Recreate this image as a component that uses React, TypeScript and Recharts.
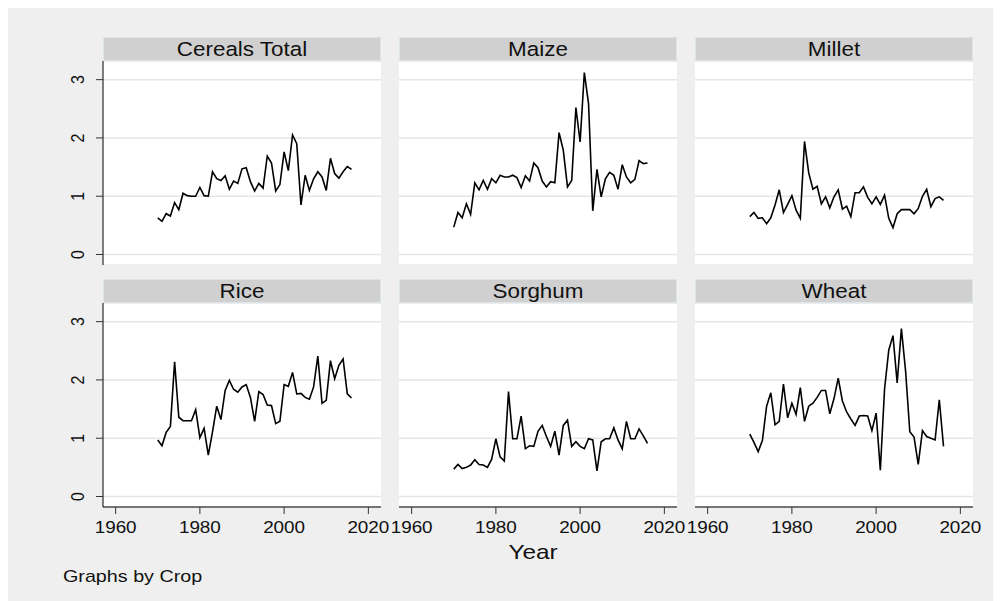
import React from "react";
import { LineChart, Line, XAxis, YAxis, CartesianGrid } from "recharts";

const years = [
  1970, 1971, 1972, 1973, 1974, 1975, 1976, 1977, 1978, 1979,
  1980, 1981, 1982, 1983, 1984, 1985, 1986, 1987, 1988, 1989,
  1990, 1991, 1992, 1993, 1994, 1995, 1996, 1997, 1998, 1999,
  2000, 2001, 2002, 2003, 2004, 2005, 2006, 2007, 2008, 2009,
  2010, 2011, 2012, 2013, 2014, 2015, 2016,
];

const cerealsTotal = [
  0.63, 0.57, 0.7, 0.66, 0.89, 0.77, 1.05, 1.01, 1.0, 1.0,
  1.15, 1.01, 1.0, 1.42, 1.3, 1.27, 1.35, 1.12, 1.26, 1.22,
  1.47, 1.49, 1.25, 1.09, 1.22, 1.14, 1.69, 1.57, 1.09, 1.2,
  1.76, 1.44, 2.05, 1.9, 0.85, 1.36, 1.1, 1.3, 1.42, 1.33,
  1.1, 1.65, 1.39, 1.31, 1.42, 1.51, 1.46,
];
const maize = [
  0.47, 0.72, 0.63, 0.87, 0.69, 1.23, 1.11, 1.27, 1.12, 1.3,
  1.23, 1.36, 1.33, 1.33, 1.36, 1.32, 1.15, 1.35, 1.26, 1.57,
  1.49, 1.26, 1.16, 1.25, 1.23, 2.09, 1.79, 1.16, 1.27, 2.52,
  1.93, 3.12, 2.59, 0.75, 1.46, 0.99, 1.3, 1.41, 1.36, 1.12,
  1.54, 1.33, 1.23, 1.29, 1.61, 1.56, 1.57,
];
const millet = [
  0.65, 0.72, 0.62, 0.63, 0.53, 0.63, 0.85, 1.11, 0.72, 0.86,
  1.01, 0.76, 0.62, 1.94, 1.4, 1.12, 1.17, 0.87, 0.99, 0.8,
  0.99, 1.11, 0.78, 0.83, 0.65, 1.06, 1.06, 1.16, 0.98, 0.87,
  0.99, 0.86, 1.02, 0.62, 0.46, 0.7, 0.77, 0.77, 0.77, 0.7,
  0.79, 1.0, 1.12, 0.82, 0.96, 0.99, 0.93,
];
const rice = [
  0.97, 0.87, 1.1, 1.2, 2.31, 1.36, 1.3, 1.3, 1.3, 1.49,
  1.01, 1.17, 0.71, 1.11, 1.55, 1.32, 1.82, 1.99, 1.84, 1.79,
  1.88, 1.92, 1.7, 1.29, 1.8, 1.75, 1.57, 1.56, 1.25, 1.29,
  1.92, 1.89, 2.13, 1.76, 1.77, 1.7, 1.67, 1.88, 2.41, 1.6,
  1.65, 2.33, 2.02, 2.25, 2.36, 1.76, 1.69,
];
const sorghum = [
  0.47, 0.55, 0.48, 0.5, 0.54, 0.63, 0.55, 0.54, 0.5, 0.64,
  0.99, 0.68, 0.61, 1.8, 0.99, 0.99, 1.38, 0.82, 0.87, 0.86,
  1.12, 1.22, 1.03, 0.86, 1.12, 0.71, 1.22, 1.31, 0.86, 0.94,
  0.86, 0.82, 0.99, 0.97, 0.44, 0.94, 0.99, 0.99, 1.18, 0.97,
  0.82, 1.29, 0.99, 0.99, 1.16, 1.04, 0.91,
];
const wheat = [
  1.07, 0.93, 0.77, 0.96, 1.55, 1.78, 1.23, 1.29, 1.93, 1.35,
  1.6, 1.41, 1.87, 1.29, 1.55, 1.6, 1.7, 1.82, 1.82, 1.42,
  1.68, 2.03, 1.64, 1.45, 1.33, 1.22, 1.38, 1.39, 1.38, 1.13,
  1.43, 0.45, 1.84, 2.51, 2.76, 1.95, 2.88, 2.15, 1.11, 1.02,
  0.55, 1.13, 1.03, 1.0, 0.97, 1.66, 0.86,
];

const crops = ["Cereals Total", "Maize", "Millet", "Rice", "Sorghum", "Wheat"];
const seriesList = [cerealsTotal, maize, millet, rice, sorghum, wheat];
const xTicks = [1960, 1980, 2000, 2020];
const yTicks = [0, 1, 2, 3];

const FONT = "'Liberation Sans', Arial, Helvetica, sans-serif";
const PLOT_LEFTS = [95, 391, 687];
const PLOT_TOPS = [53, 295];
const PLOT_W = 278;
const PLOT_H = 204;
const HEADER_H = 24;
const YW = 50;
const XH = 45;
const PAD = 30;

const XTick = (props: any) => {
  const { x, y, payload } = props;
  return (
    <g transform={`translate(${x},${y + 17.3}) scale(1.18,1)`}>
      <text textAnchor="middle" fontSize={16} fontFamily={FONT} fill="#111">
        {payload.value}
      </text>
    </g>
  );
};

const YTick = (props: any) => {
  const { x, y, payload } = props;
  return (
    <g transform={`translate(${x - 10},${y}) scale(1.16,1) rotate(-90)`}>
      <text textAnchor="middle" fontSize={16} fontFamily={FONT} fill="#111">
        {payload.value}
      </text>
    </g>
  );
};

function Panel({ idx }: { idx: number }) {
  const col = idx % 3;
  const row = Math.floor(idx / 3);
  const showY = col === 0;
  const showX = row === 1;
  const plotLeft = PLOT_LEFTS[col];
  const plotTop = PLOT_TOPS[row];
  const data = years.map((yr, i) => ({ year: yr, value: seriesList[idx][i] }));
  const mL = showX && !showY ? PAD : 0;
  const mR = showX ? PAD : 0;
  const left = plotLeft - (showY ? YW : 0) - mL;
  const width = PLOT_W + (showY ? YW : 0) + mL + mR;
  const height = PLOT_H + (showX ? XH : 0);
  return (
    <div style={{ position: "absolute", left, top: plotTop, width, height }}>
      <LineChart
        width={width}
        height={height}
        data={data}
        margin={{ top: 0, right: mR, bottom: 0, left: mL }}
      >
        <CartesianGrid
          vertical={false}
          fill="#ffffff"
          stroke="#e6e6e6"
          strokeWidth={1.5}
        />
        <XAxis
          dataKey="year"
          type="number"
          domain={[1957, 2023]}
          ticks={xTicks}
          allowDataOverflow
          hide={!showX}
          height={XH}
          tickSize={7}
          tickLine={{ stroke: "#333" }}
          axisLine={{ stroke: "#000" }}
          tick={<XTick />}
          interval={0}
        />
        <YAxis
          type="number"
          domain={[-0.18, 3.32]}
          ticks={yTicks}
          allowDataOverflow
          hide={!showY}
          width={YW}
          tickSize={7}
          tickLine={{ stroke: "#333" }}
          axisLine={{ stroke: "#000" }}
          tick={<YTick />}
          interval={0}
        />
        <Line
          type="linear"
          dataKey="value"
          stroke="#000"
          strokeWidth={1.6}
          dot={false}
          isAnimationActive={false}
        />
      </LineChart>
    </div>
  );
}

export default function App() {
  return (
    <div
      style={{
        position: "relative",
        width: 993,
        height: 593,
        background: "#efefef",
        overflow: "hidden",
      }}
    >
      <svg
        width={993}
        height={593}
        style={{ position: "absolute", left: 0, top: 0 }}
      >
        {crops.map((name, idx) => {
          const col = idx % 3;
          const row = Math.floor(idx / 3);
          const hx = PLOT_LEFTS[col];
          const hy = PLOT_TOPS[row] - HEADER_H;
          return (
            <g key={name}>
              <rect
                x={hx + 0.5}
                y={hy + 0.5}
                width={PLOT_W - 1}
                height={HEADER_H - 1}
                fill="#d0d0d0"
                stroke="#dbe5ea"
                strokeWidth={1}
              />
              <g transform={`translate(${hx + PLOT_W / 2},${hy + 19}) scale(1.15,1)`}>
                <text
                  textAnchor="middle"
                  fontSize={19.5}
                  fontFamily={FONT}
                  fill="#111"
                >
                  {name}
                </text>
              </g>
            </g>
          );
        })}
        <g transform="translate(525,551) scale(1.16,1)">
          <text textAnchor="middle" fontSize={21} fontFamily={FONT} fill="#111">
            Year
          </text>
        </g>
        <g transform="translate(55,574) scale(1.16,1)">
          <text textAnchor="start" fontSize={17} fontFamily={FONT} fill="#111">
            Graphs by Crop
          </text>
        </g>
      </svg>
      {crops.map((name, idx) => (
        <Panel key={name} idx={idx} />
      ))}
    </div>
  );
}
